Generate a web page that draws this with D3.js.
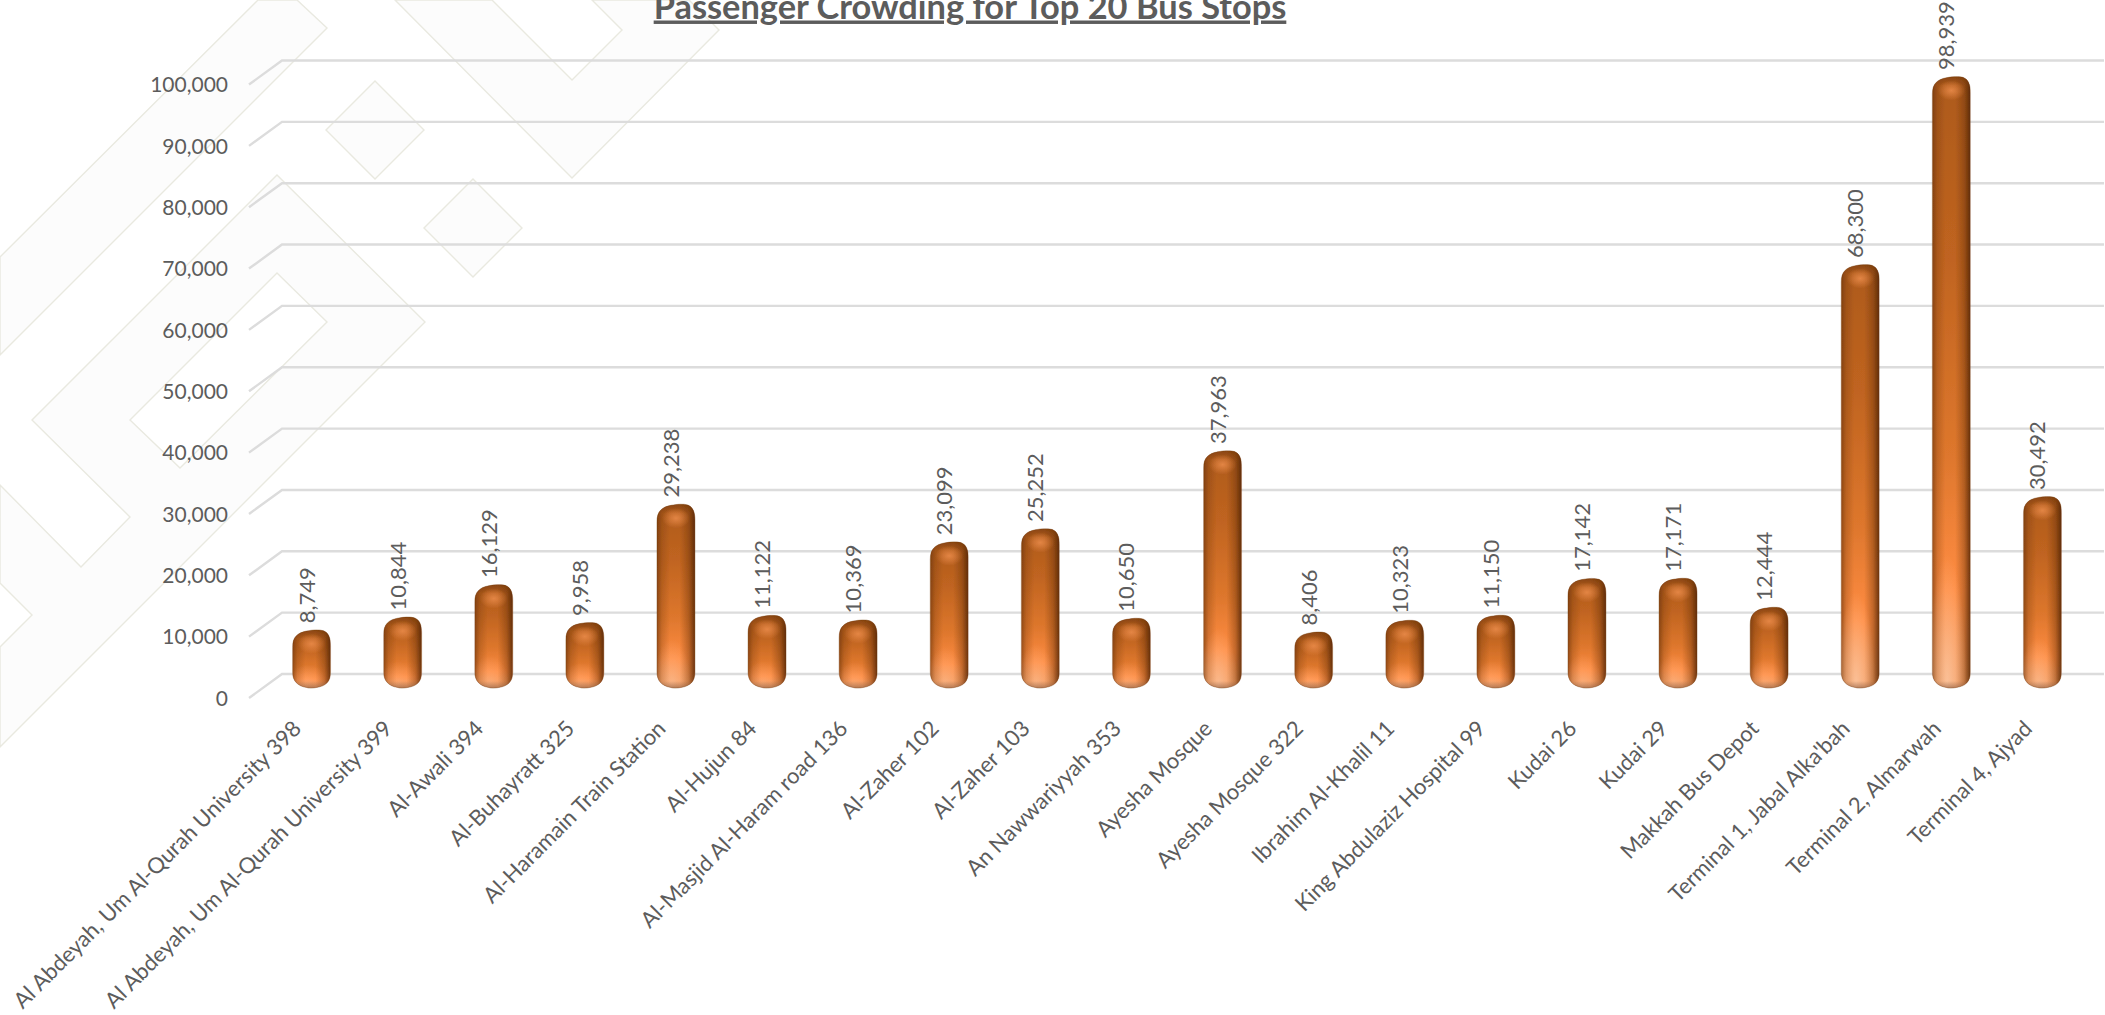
<!DOCTYPE html>
<html>
<head>
<meta charset="utf-8">
<title>Passenger Crowding for Top 20 Bus Stops</title>
<script src="https://d3js.org/d3.v7.min.js"></script>
<style>
  html, body { margin: 0; padding: 0; background: #fff; overflow: hidden; }
  text { font-family: Lato, "Open Sans", sans-serif; fill: #5c5c5c; }
</style>
</head>
<body>
<div id="chart"></div>
<script>
var stops = ["Al Abdeyah, Um Al-Qurah University 398", "Al Abdeyah, Um Al-Qurah University 399",
  "Al-Awali 394", "Al-Buhayratt 325", "Al-Haramain Train Station", "Al-Hujun 84",
  "Al-Masjid Al-Haram road 136", "Al-Zaher 102", "Al-Zaher 103", "An Nawwariyyah 353",
  "Ayesha Mosque", "Ayesha Mosque 322", "Ibrahim Al-Khalil 11", "King Abdulaziz Hospital 99",
  "Kudai 26", "Kudai 29", "Makkah Bus Depot", "Terminal 1, Jabal Alka'bah",
  "Terminal 2, Almarwah", "Terminal 4, Ajyad"];
var passengers = [8749, 10844, 16129, 9958, 29238, 11122, 10369, 23099, 25252, 10650,
  37963, 8406, 10323, 11150, 17142, 17171, 12444, 68300, 98939, 30492];
var yTicks = [0, 10000, 20000, 30000, 40000, 50000, 60000, 70000, 80000, 90000, 100000];
var chartTitle = "Passenger Crowding for Top 20 Bus Stops";

var width = 2105, height = 1015;
var fmt = d3.format(",");

var svg = d3.select("#chart").append("svg")
  .attr("width", width).attr("height", height)
  .style("display", "block");
var defs = svg.append("defs");

function gradient(id, x2, y2, stops) {
  var g = defs.append("linearGradient").attr("id", id)
    .attr("x1", 0).attr("y1", 0).attr("x2", x2).attr("y2", y2);
  stops.forEach(function (s) {
    g.append("stop").attr("offset", s[0]).attr("stop-color", s[1]).attr("stop-opacity", s[2]);
  });
}
gradient("barBody", 0, 1, [[0, "#ad5a1c", 1], [0.3, "#c06420", 1], [0.62, "#de772d", 1], [0.84, "#ff8c42", 1], [1, "#f39a5e", 1]]);
gradient("barSides", 1, 0, [[0, "#5f2c05", 0.62], [0.13, "#6b3408", 0.26], [0.34, "#6b3408", 0], [0.6, "#6b3408", 0], [0.84, "#5f2c05", 0.38], [1, "#4a2002", 0.82]]);
gradient("barFoot", 0, 1, [[0, "#8c5c40", 0], [1, "#8c5c40", 0.6]]);
gradient("barCrown", 0, 1, [[0, "#6f3608", 0.6], [1, "#6f3608", 0]]);

function radial(id, colour, opacity) {
  var g = defs.append("radialGradient").attr("id", id);
  g.append("stop").attr("offset", 0).attr("stop-color", colour).attr("stop-opacity", opacity);
  g.append("stop").attr("offset", 1).attr("stop-color", colour).attr("stop-opacity", 0);
}
radial("barGlare", "#ef8f4e", 0.8);
radial("barLit", "#ffd9bd", 0.6);

var soft = defs.append("filter").attr("id", "soft")
  .attr("x", "-10%").attr("y", "-10%").attr("width", "120%").attr("height", "120%");
soft.append("feGaussianBlur").attr("stdDeviation", 0.7);

// faint watermark shapes behind the plot
var backdrop = svg.append("g").attr("fill", "#fcfcfc").attr("stroke", "#e9e9e0").attr("stroke-width", 1.4);
var backdropShapes = [
  "M258,0 L297,0 L327,28 L0,355 L0,257 Z",
  "M277,175 L425,322 L0,747 L0,647 L32,615 L0,583 L0,485 L81,567 L130,517 L32,420 Z M277,273 L130,420 L180,468 L327,322 Z",
  "M395,0 L572,178 L719,30 L689,0 L592,0 L622,30 L572,80 L492,0 Z",
  "M375,81 L424,130 L375,179 L326,130 Z",
  "M473,179 L522,228 L473,277 L424,228 Z"
];
backdrop.selectAll("path").data(backdropShapes).enter().append("path")
  .attr("fill-rule", "evenodd").attr("d", function (d) { return d; });

var x = d3.scaleBand().domain(stops).range([266, 2088]);
var yBack = d3.scaleLinear().domain([0, 100000]).range([674, 60.5]);
var yLabel = d3.scaleLinear().domain([0, 100000]).range([698.5, 85]);
var yBar = d3.scaleLinear().domain([0, 100000]).range([688, 74.5]);

// gridlines run along the back wall, with a short slant down to the floor edge
svg.append("g").selectAll("path").data(yTicks).enter().append("path")
  .attr("fill", "none").attr("stroke", "#dcdcdc").attr("stroke-width", 2.4)
  .attr("d", function (d) {
    var p = d3.path();
    p.moveTo(249, yBack(d) + 24);
    p.lineTo(282, yBack(d));
    p.lineTo(2104, yBack(d));
    return p.toString();
  });

var yAxis = d3.axisLeft(yLabel).tickValues(yTicks).tickFormat(fmt).tickSize(0).tickPadding(0);
var yG = svg.append("g").attr("transform", "translate(228,0)").call(yAxis);
yG.select(".domain").remove();
yG.selectAll("text").style("font-size", "21px").style("font-family", null);

var xAxis = d3.axisBottom(x).tickSize(0).tickPadding(0);
var xG = svg.append("g").attr("transform", "translate(0,700)").call(xAxis);
xG.select(".domain").remove();
xG.selectAll("text")
  .style("font-size", "22px").style("font-family", null)
  .attr("text-anchor", "end").attr("dy", null).attr("y", 0)
  .attr("transform", "translate(-9,30) rotate(-45)");

var barW = 38;
function barPath(d) {
  var l = x(d.name) + x.bandwidth() / 2 - barW / 2, r = l + barW;
  var t = yBar(d.value) - 4.5, b = yBar(0), rx = 14, ry = 16;
  var p = d3.path();
  p.moveTo(l, t + ry + 1.5);
  p.bezierCurveTo(l, t + 7, l + 5, t + 3, l + rx, t + 1.2);
  p.bezierCurveTo(l + 20, t, r - 11, t - 0.5, r - 7, t + 1);
  p.bezierCurveTo(r - 2, t + 3, r, t + 8, r, t + ry);
  p.lineTo(r, b - ry);
  p.bezierCurveTo(r, b - 6, r - 5, b - 2, r - rx, b - 0.5);
  p.bezierCurveTo(r - 18, b + 0.3, l + 16, b + 0.3, l + rx, b - 0.5);
  p.bezierCurveTo(l + 5, b - 2, l, b - 7, l, b - ry);
  p.closePath();
  return p.toString();
}

var data = stops.map(function (s, i) { return { name: s, value: passengers[i] }; });

var bars = svg.append("g").selectAll("g").data(data).enter().append("g")
  .attr("filter", "url(#soft)");

bars.each(function (d, i) {
  var g = d3.select(this);
  var cx = x(d.name) + x.bandwidth() / 2;
  var t = yBar(d.value) - 4.5, b = yBar(0), h = b - t;
  var clip = defs.append("clipPath").attr("id", "bar" + i);
  clip.append("path").attr("d", barPath(d));
  var inner = g.append("g").attr("clip-path", "url(#bar" + i + ")");
  inner.append("rect").attr("x", cx - barW / 2).attr("y", t).attr("width", barW).attr("height", h)
    .attr("fill", "url(#barBody)");
  inner.append("rect").attr("x", cx - barW / 2).attr("y", t).attr("width", barW).attr("height", h)
    .attr("fill", "url(#barSides)");
  // lit lower-left area, stronger and higher on the tall columns
  inner.append("ellipse").attr("cx", cx - 4).attr("cy", b - 4).attr("rx", 19).attr("ry", 8 + h * 0.2)
    .attr("fill", "url(#barLit)")
    .attr("opacity", Math.min(1, 0.25 + h / 400));
  inner.append("rect").attr("x", cx - barW / 2).attr("y", b - 7).attr("width", barW).attr("height", 7)
    .attr("fill", "url(#barFoot)");
  inner.append("rect").attr("x", cx - barW / 2).attr("y", t).attr("width", barW).attr("height", 9)
    .attr("fill", "url(#barCrown)");
  inner.append("ellipse").attr("cx", cx).attr("cy", t + 14).attr("rx", 14).attr("ry", 10)
    .attr("fill", "url(#barGlare)");
  g.append("path").attr("d", barPath(d))
    .attr("fill", "none").attr("stroke", "#6f3a14").attr("stroke-opacity", 0.45).attr("stroke-width", 0.8);
});

svg.append("g").selectAll("text").data(data).enter().append("text")
  .attr("transform", function (d) {
    return "translate(" + (x(d.name) + x.bandwidth() / 2 + 3) + "," + (yBar(d.value) - 11) + ") rotate(-90)";
  })
  .style("font-size", "22px")
  .text(function (d) { return fmt(d.value); });

svg.append("text")
  .attr("x", 970).attr("y", 18.5)
  .attr("text-anchor", "middle")
  .style("font-size", "34.4px").style("font-weight", "700")
  .style("text-decoration", "underline")
  .text(chartTitle);
</script>
</body>
</html>
